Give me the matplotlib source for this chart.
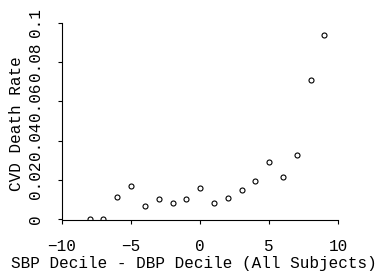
import matplotlib
matplotlib.use("Agg")
import matplotlib.pyplot as plt

# difference of deciles and the CVD death rate
decile_diff = [-8, -7, -6, -5, -4, -3, -2, -1, 0, 1, 2, 3, 4, 5, 6, 7, 8, 9]
death_rate = [0.0, 0.0, 0.0111, 0.0167, 0.0068, 0.0101, 0.0083, 0.0101, 0.0157,
              0.0080, 0.0106, 0.0150, 0.0194, 0.0291, 0.0216, 0.0325, 0.0709, 0.0939]

x_ticks = [-10, -5, 0, 5, 10]
y_ticks = [0, 0.02, 0.04, 0.06, 0.08, 0.1]
y_tick_labels = ["0", "0.02", "0.04", "0.06", "0.08", "0.1"]

plt.rcParams["font.family"] = ["Liberation Mono"]
plt.rcParams["font.size"] = 11.5

fig = plt.figure(figsize=(3.82, 2.74), dpi=100)
ax = fig.add_axes([62 / 382, 1 - 220 / 274, 276.3 / 382, 197.3 / 274])

ax.plot(decile_diff, death_rate, linestyle="none", marker="o", markersize=3.6,
        markerfacecolor="white", markeredgecolor="black", markeredgewidth=0.8)

ax.set_xlim(-10, 10)
ax.set_ylim(-0.0004, 0.1)
ax.spines["top"].set_visible(False)
ax.spines["right"].set_visible(False)
ax.spines["left"].set_bounds(0, 0.1)
ax.spines["left"].set_linewidth(0.8)
ax.spines["bottom"].set_linewidth(0.8)

ax.set_xticks(x_ticks)
ax.set_yticks(y_ticks)
ax.set_yticklabels(y_tick_labels, rotation=90, va="center")
ax.tick_params(axis="x", length=3, width=0.8, pad=11)
ax.tick_params(axis="y", length=3, width=0.8, pad=10.5)

ax.set_xlabel("SBP Decile - DBP Decile (All Subjects)", va="center", ha="center")
ax.set_ylabel("CVD Death Rate", va="center", ha="center")
ax.xaxis.set_label_coords(0.478, -0.218)
ax.yaxis.set_label_coords(-0.163, 0.49)

fig.savefig("out.png", dpi=100)
